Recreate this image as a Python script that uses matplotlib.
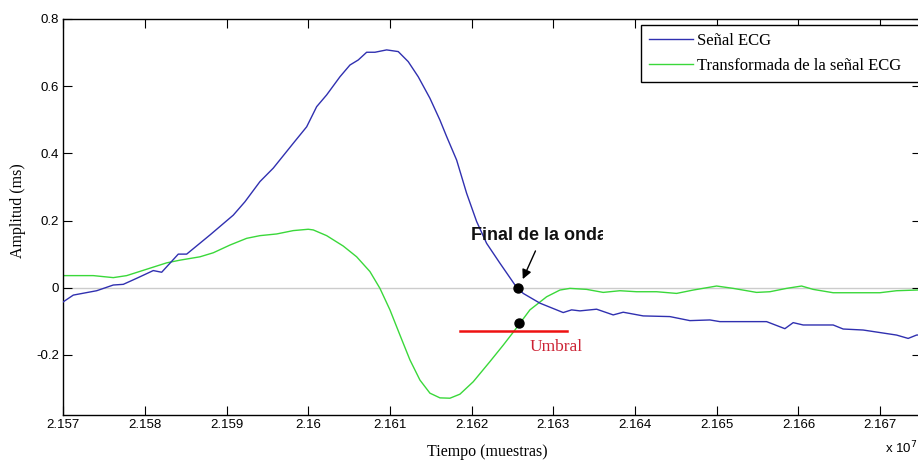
import matplotlib
matplotlib.use('Agg')
import matplotlib.pyplot as plt
from matplotlib.ticker import FuncFormatter, MultipleLocator
from matplotlib.transforms import Bbox, TransformedBbox

# ECG signal (samples, amplitude)
ecg_x = [21570000, 21571224, 21574088, 21576120, 21577344, 21578984, 21581016, 21582044,
         21584076, 21585104, 21587956, 21590808, 21592240, 21594076, 21595704, 21598152,
         21599792, 21601016, 21602240, 21603868, 21605092, 21606108, 21607136, 21608152,
         21609584, 21611004, 21612228, 21613452, 21614884, 21616108, 21616928, 21618152,
         21619376, 21620600, 21621824, 21623452, 21625496, 21625692, 21626304, 21628348,
         21631200, 21632228, 21633244, 21635288, 21637320, 21638544, 21640992, 21644256,
         21646708, 21649156, 21650380, 21656096, 21658336, 21659352, 21660576, 21664248,
         21665472, 21667920, 21672008, 21673428, 21674456, 21675500]
ecg_y = [-0.042, -0.022, -0.009, 0.008, 0.010, 0.028, 0.051, 0.046,
         0.100, 0.100, 0.157, 0.216, 0.256, 0.316, 0.356, 0.430,
         0.479, 0.539, 0.574, 0.628, 0.663, 0.678, 0.701, 0.701,
         0.708, 0.703, 0.673, 0.628, 0.564, 0.499, 0.450, 0.380,
         0.281, 0.197, 0.132, 0.073, 0.001, -0.002, -0.017, -0.046,
         -0.074, -0.066, -0.069, -0.064, -0.081, -0.073, -0.084, -0.086,
         -0.098, -0.096, -0.101, -0.101, -0.122, -0.104, -0.111, -0.111,
         -0.123, -0.126, -0.141, -0.151, -0.141, -0.140]

# transformed signal
tr_x = [21570000, 21573672, 21576120, 21577760, 21580208, 21582656, 21584284, 21586732,
        21588360, 21590404, 21592448, 21594076, 21596120, 21598152, 21599988, 21600600,
        21602240, 21604272, 21605912, 21607540, 21608764, 21609988, 21611212, 21612436,
        21613660, 21614884, 21616108, 21617332, 21618556, 21620184, 21622228, 21623856,
        21625288, 21627124, 21629168, 21630796, 21632020, 21634064, 21636096, 21638140,
        21640184, 21642632, 21645080, 21647112, 21649976, 21652008, 21654872, 21656500,
        21658544, 21660380, 21661800, 21664248, 21667112, 21669964, 21672008, 21674456,
        21675500]
tr_y = [0.036, 0.036, 0.030, 0.036, 0.055, 0.074, 0.082, 0.092,
        0.104, 0.127, 0.147, 0.155, 0.160, 0.170, 0.174, 0.172,
        0.155, 0.124, 0.092, 0.048, -0.002, -0.066, -0.141, -0.215,
        -0.275, -0.314, -0.328, -0.329, -0.317, -0.280, -0.220, -0.171,
        -0.126, -0.066, -0.027, -0.007, -0.002, -0.005, -0.014, -0.009,
        -0.012, -0.012, -0.017, -0.007, 0.005, -0.002, -0.014, -0.012,
        -0.002, 0.005, -0.005, -0.015, -0.015, -0.015, -0.009, -0.007,
        -0.006]

end_x = [21625700, 21625750]
end_y = [0.0, -0.104]
thr_x = [21618560, 21631620]
thr_y = -0.13

plt.rcParams['font.family'] = 'Liberation Sans'

fig = plt.figure(figsize=(9.18, 4.61), dpi=100)
ax = fig.add_axes([63.3 / 918, 46 / 461, (921 - 63.3) / 918, 396 / 461])

ax.axhline(0, color='#cccccc', lw=1, zorder=1)
ax.plot(ecg_x, ecg_y, color='#3030b0', lw=1, label='Señal ECG', zorder=3)
ax.plot(tr_x, tr_y, color='#3ad83a', lw=1, label='Transformada de la señal ECG', zorder=2)
ax.plot(thr_x, [thr_y, thr_y], color='#ee1111', lw=1.8, zorder=4)
ax.plot(end_x, end_y, 'o', color='black', ms=6.5, zorder=5)

ax.annotate('', xy=(21626108, 0.018), xytext=(21627943, 0.117),
            arrowprops=dict(arrowstyle='-|>', color='black', lw=1, mutation_scale=14))
t = ax.text(21619866, 0.155, 'Final de la onda', fontsize=13, fontweight='bold',
            ha='left', va='center', color='#111111')
t.set_clip_on(True)
t.set_clip_box(TransformedBbox(Bbox.from_extents(0, 0, 603 / 918, 1), fig.transFigure))
ax.text(21627124, -0.176, 'Umbral', fontsize=12.5, color='#cc2233',
        family='Liberation Serif', ha='left', va='center')

ax.set_xlim(21570000, 21675000)
ax.set_ylim(-0.379, 0.8)
ax.xaxis.set_major_locator(MultipleLocator(10000))
ax.yaxis.set_major_locator(MultipleLocator(0.2))
ax.xaxis.set_major_formatter(FuncFormatter(lambda v, p: '%g' % round(v / 1e7, 4)))
ax.yaxis.set_major_formatter(FuncFormatter(lambda v, p: '%g' % round(v, 2)))
ax.tick_params(direction='in', top=True, right=True, length=6.5, width=0.8,
               labelsize=9.5, pad=3)
for s in ax.spines.values():
    s.set_linewidth(1)

ax.set_xlabel('Tiempo (muestras)', family='Liberation Serif', fontsize=11.5)
ax.set_ylabel('Amplitud (ms)', family='Liberation Serif', fontsize=11.5)
ax.xaxis.set_label_coords(0.494, -0.073)
ax.yaxis.set_label_coords(-0.044, 0.515)
fig.text(885 / 918, 1 - 448 / 461, 'x 10$^7$', fontsize=9.5, va='center')

ax.legend(loc='upper left', bbox_to_anchor=(641 / 918, 1 - 25 / 461, 300 / 918, 0.001),
          bbox_transform=fig.transFigure, mode='expand', borderaxespad=0,
          fancybox=False, edgecolor='black', framealpha=1,
          prop={'family': 'Liberation Serif', 'size': 12},
          handlelength=2.6, handletextpad=0.25, labelspacing=0.55, borderpad=0.5)

fig.savefig('out.png', dpi=100)
